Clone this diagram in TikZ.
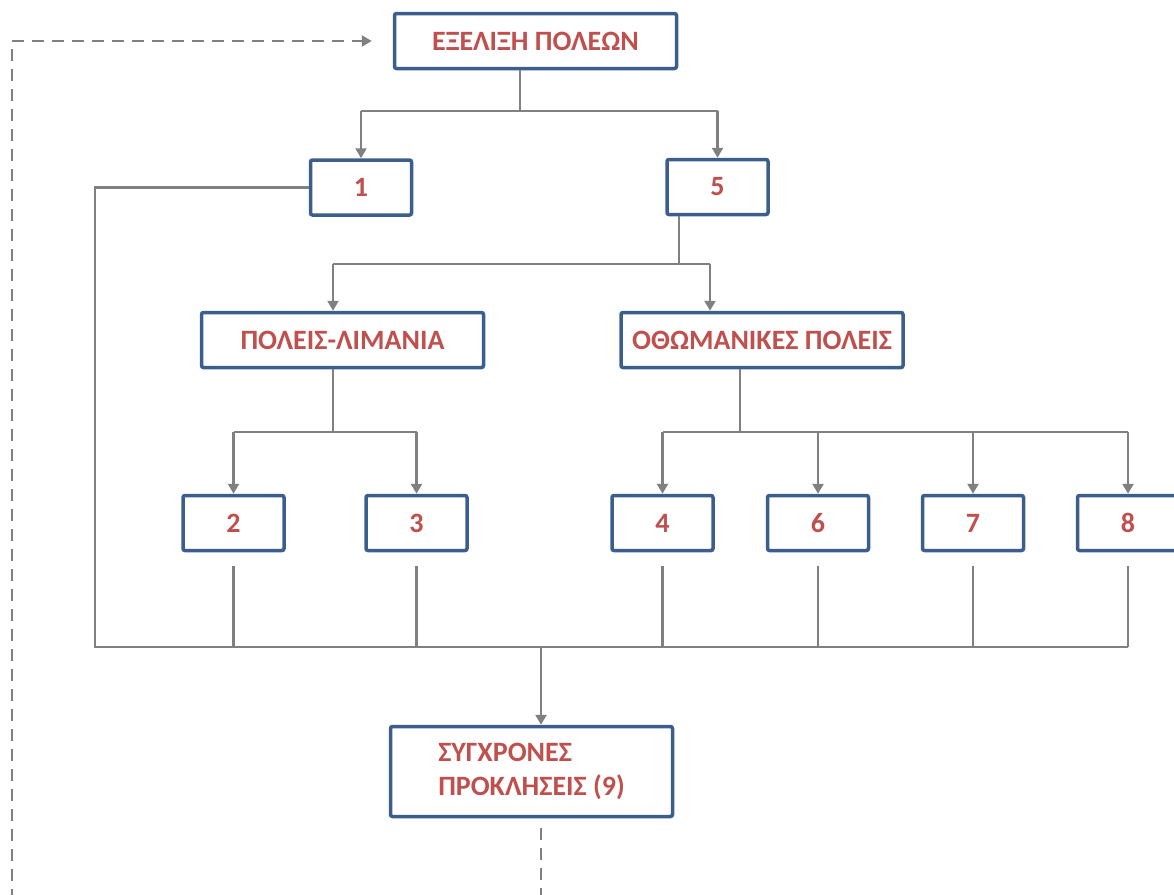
\documentclass[tikz,border=0pt]{standalone}
\usepackage{fontspec}
\setmainfont{Carlito}
\usepackage{xcolor}
\usetikzlibrary{arrows.meta}
\definecolor{boxblue}{RGB}{59,94,140}
\definecolor{txtred}{RGB}{192,80,77}
\definecolor{linegray}{RGB}{128,128,128}

\begin{document}
\begin{tikzpicture}[x=1pt,y=-1pt,
  box/.style={draw=boxblue,line width=3.5pt,rounded corners=2pt,fill=white,
    text=txtred,font=\fontsize{28}{34}\selectfont\bfseries,inner sep=0pt},
  widebox/.style={box,minimum width=282pt,minimum height=55pt},
  numbox/.style={box,minimum width=101pt,minimum height=55pt},
  link/.style={draw=linegray,line width=2.7pt},
  arr/.style={link,-{Triangle[length=10pt,width=11pt]}},
  back/.style={arr,dash pattern=on 12pt off 8pt}]
\useasboundingbox (0,0) rectangle (1174,894);
\clip (0,0) rectangle (1174,894);

% boxes
\node[widebox] (evol) at (535.5,41) {ΕΞΕΛΙΞΗ ΠΟΛΕΩΝ};
\node[numbox] (n1) at (361,187.5) {1};
\node[numbox] (n5) at (717.5,187) {5};
\node[widebox] (lim) at (342.5,340) {ΠΟΛΕΙΣ-ΛΙΜΑΝΙΑ};
\node[widebox] (oth) at (762,340) {ΟΘΩΜΑΝΙΚΕΣ ΠΟΛΕΙΣ};
\node[numbox] (n2) at (233.5,523) {2};
\node[numbox] (n3) at (416.5,523) {3};
\node[numbox] (n4) at (662.5,523) {4};
\node[numbox] (n6) at (818,523) {6};
\node[numbox] (n7) at (973,523) {7};
\node[numbox] (n8) at (1128,523) {8};
\node[box,minimum width=282pt,minimum height=90pt,align=left] (sync) at (531.5,771.5)
  {ΣΥΓΧΡΟΝΕΣ\\ΠΡΟΚΛΗΣΕΙΣ (9)};

% branch points
\coordinate (t1) at (520,111);
\coordinate (t2) at (679,264);
\coordinate (a5) at (333,264);
\coordinate (b5) at (710,264);
\coordinate (c) at (333,432);
\coordinate (d) at (740,432);
\coordinate (busL) at (95,647);
\coordinate (busM) at (541,647);
\coordinate (loop) at (12,930);

% top level
\draw[link] (evol.south -| t1) -- (t1);
\draw[link] (t1 -| n1) -- (t1 -| n5);
\draw[arr] (t1 -| n1) -- (n1);
\draw[arr] (t1 -| n5) -- (n5);

% under 5
\draw[link] (n5.south -| t2) -- (t2);
\draw[link] (a5) -- (b5);
\draw[arr] (a5) -- (a5 |- lim.north);
\draw[arr] (b5) -- (b5 |- oth.north);

% under ports
\draw[link] (lim.south -| c) -- (c);
\draw[link] (c -| n2) -- (c -| n3);
\foreach \n in {n2,n3}
  \draw[arr] (c -| \n) -- (\n);

% under ottoman towns
\draw[link] (oth.south -| d) -- (d);
\draw[link] (d -| n4) -- (d -| n8);
\foreach \n in {n4,n6,n7,n8}
  \draw[arr] (d -| \n) -- (\n);

% bus to the bottom
\draw[link] (n1.west) -| (busL) -- (busL -| n8);
\foreach \n in {n2,n3,n4,n6,n7,n8}
  \draw[link,shorten <=14pt] (\n.south) -- (\n.south |- busL);
\draw[arr] (busM) -- (busM |- sync.north);

% feedback
\draw[back,shorten <=10pt,shorten >=21pt] (busM |- sync.south) |- (loop) |- (evol.west);
\end{tikzpicture}
\end{document}
